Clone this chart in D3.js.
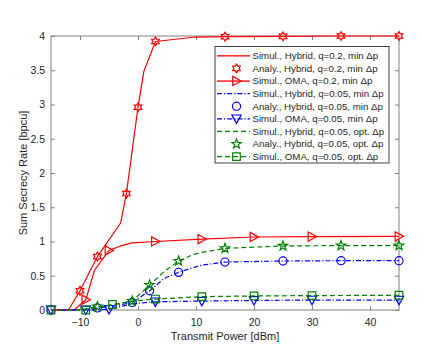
<!DOCTYPE html>
<html><head><meta charset="utf-8">
<script src="https://cdn.jsdelivr.net/npm/d3@7"></script>
<style>body{margin:0;background:#fff}svg{display:block;font-family:"Liberation Sans",Arial,sans-serif}</style>
</head><body><svg id="c" width="424" height="354"></svg>
<script>
// ---- data ----
const xTicks = [-10, 0, 10, 20, 30, 40];
const yTicks = [0, 0.5, 1, 1.5, 2, 2.5, 3, 3.5, 4];
const yTickLabels = ["0", "0.5", "1", "1.5", "2", "2.5", "3", "3.5", "4"];

// Simul., Hybrid, q=0.2, min Δp (line)
const simHybRedX = [-15, -12, -10, -7, -3, -2, 0, 1, 3, 10, 15, 25, 35, 45];
const simHybRedY = [0, 0, 0.28, 0.78, 1.27, 1.70, 2.96, 3.48, 3.92, 3.985, 3.99, 3.995, 4.0, 4.0];
// Analy., Hybrid, q=0.2, min Δp (hexagrams)
const anaHybRedX = [-10, -7, -2, 0, 3, 15, 25, 35, 45];
const anaHybRedY = [0.28, 0.78, 1.70, 2.96, 3.92, 3.99, 3.995, 4.0, 4.0];
// Simul., OMA, q=0.2, min Δp (line + right triangles)
const omaRedX = [-15, -11, -9, -7.5, -5, -3, -1, 3, 11, 20, 30, 45];
const omaRedY = [0, 0, 0.15, 0.58, 0.87, 0.935, 0.98, 1.0, 1.036, 1.066, 1.072, 1.075];
const omaRedMarkX = [-9, -5, 3, 11, 20, 30, 45];
const omaRedMarkY = [0.15, 0.87, 1.0, 1.036, 1.066, 1.072, 1.075];

// Simul., Hybrid, q=0.05, min Δp (blue dash-dot)
const simHybBlueX = [-15, -10, -7, -4, -1, 2, 4.5, 7, 9.5, 11, 15, 25, 35, 45];
const simHybBlueY = [0, 0, 0.03, 0.06, 0.11, 0.28, 0.46, 0.55, 0.62, 0.655, 0.70, 0.715, 0.72, 0.72];
// Analy., Hybrid, q=0.05, min Δp (circles)
const anaHybBlueX = [-15, -7, -1, 2, 7, 15, 25, 35, 45];
const anaHybBlueY = [0, 0.03, 0.11, 0.28, 0.55, 0.70, 0.715, 0.72, 0.72];
// Simul., OMA, q=0.05, min Δp (blue dash-dot + down triangles)
const omaBlueX = [-15, -9, -5, -1, 3, 11, 20, 30, 45];
const omaBlueY = [0, 0, 0.01, 0.09, 0.12, 0.13, 0.14, 0.145, 0.145];
const omaBlueMarkX = [-15, -9, -5, 3, 11, 20, 30, 45];
const omaBlueMarkY = [0, 0, 0.01, 0.12, 0.13, 0.14, 0.145, 0.145];

// Simul., Hybrid, q=0.05, opt. Δp (green dashed)
const simHybGreenX = [-15, -10, -7, -4, -1, 2, 4.5, 7, 9.5, 11, 15, 25, 35, 45];
const simHybGreenY = [0, 0, 0.05, 0.08, 0.13, 0.365, 0.56, 0.715, 0.81, 0.84, 0.90, 0.935, 0.94, 0.94];
// Analy., Hybrid, q=0.05, opt. Δp (pentagrams)
const anaHybGreenX = [-7, -1, 2, 7, 15, 25, 35, 45];
const anaHybGreenY = [0.05, 0.13, 0.365, 0.715, 0.90, 0.935, 0.94, 0.94];
// Simul., OMA, q=0.05, opt. Δp (green dashed + squares)
const omaGreenX = [-15, -9, -4.4, -1, 3, 11, 20, 30, 45];
const omaGreenY = [0, 0, 0.08, 0.13, 0.16, 0.195, 0.205, 0.21, 0.215];
const omaGreenMarkX = [-15, -9, -4.4, 3, 11, 20, 30, 45];
const omaGreenMarkY = [0, 0, 0.08, 0.16, 0.195, 0.205, 0.21, 0.215];

const legendLabels = [
  "Simul., Hybrid, q=0.2, min Δp",
  "Analy., Hybrid, q=0.2, min Δp",
  "Simul., OMA, q=0.2, min Δp",
  "Simul., Hybrid, q=0.05, min Δp",
  "Analy., Hybrid, q=0.05, min Δp",
  "Simul., OMA, q=0.05, min Δp",
  "Simul., Hybrid, q=0.05, opt. Δp",
  "Analy., Hybrid, q=0.05, opt. Δp",
  "Simul., OMA, q=0.05, opt. Δp"
];

// ---- drawing ----
const RED = "#ff0000", BLUE = "#0000ff", GREEN = "#008000";
const DASHDOT = "5,2,1.2,2", DASH = "5,3";
const svg = d3.select("#c");
const L = 51, R = 399, T = 36, B = 310;
const x = d3.scaleLinear().domain([-15, 45]).range([L, R]);
const y = d3.scaleLinear().domain([0, 4]).range([B, T]);

const axisColor = "#808080", textColor = "#262626";

function hexagram(s) {
  const p = [];
  for (let k = 0; k < 12; k++) {
    const a = -Math.PI / 2 + k * Math.PI / 6;
    const rr = k % 2 === 0 ? s : s * 0.58;
    p.push([rr * Math.cos(a), rr * Math.sin(a)]);
  }
  return "M" + p.map(q => q[0].toFixed(2) + "," + q[1].toFixed(2)).join("L") + "Z";
}
function pentagram(s) {
  const p = [];
  for (let k = 0; k < 10; k++) {
    const a = -Math.PI / 2 + k * Math.PI / 5;
    const rr = k % 2 === 0 ? s : s * 0.4;
    p.push([rr * Math.cos(a), rr * Math.sin(a)]);
  }
  return "M" + p.map(q => q[0].toFixed(2) + "," + q[1].toFixed(2)).join("L") + "Z";
}
const markerPath = {
  hex: hexagram(4.4),
  circle: d3.symbol(d3.symbolCircle, 52)(),
  triR: "M-3.8,-4.6L4.6,0L-3.8,4.6Z",
  triD: "M-4.6,-3.8L4.6,-3.8L0,4.6Z",
  star: pentagram(5),
  square: "M-3.8,-3.8H3.8V3.8H-3.8Z"
};

// axes
const gx = svg.append("g").attr("transform", `translate(0,${B})`)
  .call(d3.axisBottom(x).tickValues(xTicks).tickSizeInner(-4).tickSizeOuter(0).tickPadding(9).tickFormat(d3.format("d")));
const gxt = svg.append("g").attr("transform", `translate(0,${T})`)
  .call(d3.axisTop(x).tickValues(xTicks).tickSizeInner(-4).tickSizeOuter(0).tickFormat(""));
const gy = svg.append("g").attr("transform", `translate(${L},0)`)
  .call(d3.axisLeft(y).tickValues(yTicks).tickSizeInner(-4).tickSizeOuter(0).tickPadding(6).tickFormat((d, i) => yTickLabels[i]));
const gyr = svg.append("g").attr("transform", `translate(${R},0)`)
  .call(d3.axisRight(y).tickValues(yTicks).tickSizeInner(-4).tickSizeOuter(0).tickFormat(""));
[gx, gxt, gy, gyr].forEach(g => {
  g.select(".domain").remove();
  g.selectAll(".tick line").attr("stroke", axisColor);
  g.selectAll("text").attr("fill", textColor).style("font-size", "10.5px").style("font-family", "Liberation Sans, Arial, sans-serif");
});
svg.append("rect").attr("x", L).attr("y", T).attr("width", R - L).attr("height", B - T)
  .attr("fill", "none").attr("stroke", axisColor).attr("stroke-width", 1);

// plot content
const plot = svg.append("g");
const line = d3.line().x(d => x(d[0])).y(d => y(d[1]));
const zip = (a, b) => a.map((v, i) => [v, b[i]]);

function drawLine(xs, ys, color, dash) {
  plot.append("path").datum(zip(xs, ys)).attr("d", line)
    .style("fill", "none").style("stroke", color).style("stroke-width", 1.2)
    .style("stroke-dasharray", dash || "none").style("stroke-linejoin", "round");
}
function drawMarks(xs, ys, color, shape) {
  plot.append("g").selectAll("path").data(zip(xs, ys)).join("path")
    .attr("d", markerPath[shape])
    .attr("transform", d => `translate(${x(d[0])},${y(d[1])})`)
    .style("fill", "none").style("stroke", color).style("stroke-width", 1.2);
}

// drawn in legend order (later series on top)
drawLine(simHybRedX, simHybRedY, RED);
drawMarks(anaHybRedX, anaHybRedY, RED, "hex");
drawLine(omaRedX, omaRedY, RED);
drawMarks(omaRedMarkX, omaRedMarkY, RED, "triR");
drawLine(simHybBlueX, simHybBlueY, BLUE, DASHDOT);
drawMarks(anaHybBlueX, anaHybBlueY, BLUE, "circle");
drawLine(omaBlueX, omaBlueY, BLUE, DASHDOT);
drawMarks(omaBlueMarkX, omaBlueMarkY, BLUE, "triD");
drawLine(simHybGreenX, simHybGreenY, GREEN, DASH);
drawMarks(anaHybGreenX, anaHybGreenY, GREEN, "star");
drawLine(omaGreenX, omaGreenY, GREEN, DASH);
drawMarks(omaGreenMarkX, omaGreenMarkY, GREEN, "square");

// labels
svg.append("text").attr("x", (L + R) / 2).attr("y", 340).attr("text-anchor", "middle")
  .attr("fill", textColor).style("font-size", "11px").text("Transmit Power [dBm]");
svg.append("text").attr("transform", `translate(27,${(T + B) / 2}) rotate(-90)`).attr("text-anchor", "middle")
  .attr("fill", textColor).style("font-size", "11px").text("Sum Secrecy Rate [bpcu]");

// legend
const legSpec = [
  {c: RED, line: true, dash: "none", m: null},
  {c: RED, line: false, dash: "none", m: "hex"},
  {c: RED, line: true, dash: "none", m: "triR"},
  {c: BLUE, line: true, dash: DASHDOT, m: null},
  {c: BLUE, line: false, dash: "none", m: "circle"},
  {c: BLUE, line: true, dash: DASHDOT, m: "triD"},
  {c: GREEN, line: true, dash: DASH, m: null},
  {c: GREEN, line: false, dash: "none", m: "star"},
  {c: GREEN, line: true, dash: DASH, m: "square"}
];
const lg = svg.append("g");
lg.append("rect").attr("x", 215).attr("y", 46.5).attr("width", 174).attr("height", 116.5)
  .style("fill", "#fff").style("stroke", "#404040").style("stroke-width", 1);
legendLabels.forEach((lab, i) => {
  const cy = 55.8 + i * 12.6;
  const s = legSpec[i];
  if (s.line) {
    if (s.dash === "none") {
      lg.append("rect").attr("x", 217).attr("y", cy - 0.6).attr("width", 33).attr("height", 1.3)
        .style("fill", s.c).style("stroke", "none");
    } else {
      lg.append("path").attr("d", `M217,${cy}H250`)
        .style("fill", "none").style("stroke", s.c).style("stroke-width", 1.2).style("stroke-dasharray", s.dash);
    }
  }
  if (s.m) lg.append("path").attr("d", markerPath[s.m]).attr("transform", `translate(236.5,${cy})`)
    .style("fill", "none").style("stroke", s.c).style("stroke-width", 1.2);
  lg.append("text").attr("x", 252.5).attr("y", cy).attr("dy", "0.35em").attr("fill", textColor)
    .style("font-size", "9.7px").text(lab);
});
</script></body></html>
